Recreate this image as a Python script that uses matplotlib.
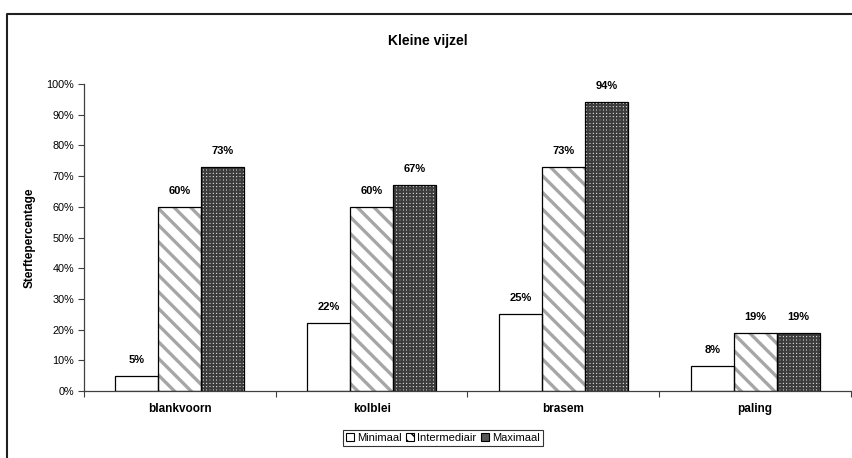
import numpy as np
import matplotlib
matplotlib.use("Agg")
import matplotlib.pyplot as plt
import matplotlib.transforms as mtransforms
from matplotlib.lines import Line2D
from matplotlib.patches import Patch

plt.rcParams['font.family'] = ['Liberation Sans', 'DejaVu Sans']

categories = ["blankvoorn", "kolblei", "brasem", "paling"]
series = ["Minimaal", "Intermediair", "Maximaal"]
minimaal = [5, 22, 25, 8]
intermediair = [60, 60, 73, 19]
maximaal = [73, 67, 94, 19]
y_ticks = [0, 10, 20, 30, 40, 50, 60, 70, 80, 90, 100]

fig = plt.figure(figsize=(8.53, 4.58), dpi=100)
ax = fig.add_axes([84 / 853, 1 - 391 / 458, (851 - 84) / 853, (391 - 84) / 458])

x = np.arange(len(categories))
w = 0.224
values = [minimaal, intermediair, maximaal]
styles = [
    dict(face="white", hatch=None, hcol="white", hlw=1.0),
    dict(face="white", hatch="\\\\", hcol="#a6a6a6", hlw=2.4),
    dict(face="#f0f0f0", hatch="+++++", hcol="#3c3c3c", hlw=1.55),
]

for i, (vals, st) in enumerate(zip(values, styles)):
    xs = x + (i - 1) * w
    with plt.rc_context({'hatch.linewidth': st["hlw"], 'hatch.color': st["hcol"]}):
        bars = ax.bar(xs, vals, w, color=st["face"], hatch=st["hatch"],
                      edgecolor=st["hcol"], linewidth=0, zorder=2)
        for b in bars:
            if hasattr(b, "set_hatch_linewidth"):
                b.set_hatch_linewidth(st["hlw"])
    ax.bar(xs, vals, w, fill=False, edgecolor="black", linewidth=0.9, zorder=3)
    for xi, v in zip(xs, vals):
        ax.text(xi, v + 3.6, f"{v}%", ha="center", va="bottom",
                fontsize=8, fontweight="bold")

ax.set_xlim(-0.5, len(categories) - 0.5)
ax.set_ylim(0, 100)
ax.set_yticks(y_ticks)
ax.set_yticklabels([f"{t}%" for t in y_ticks], fontsize=7.8)
ax.set_xticks(np.arange(len(categories) + 1) - 0.5)
ax.set_xticklabels([])
ax.tick_params(axis="x", which="major", length=4, width=0.8, color="#404040")
ax.tick_params(axis="y", length=4, width=0.8, color="#404040", pad=3)
for s in ["top", "right"]:
    ax.spines[s].set_visible(False)
for s in ["left", "bottom"]:
    ax.spines[s].set_color("#404040")
    ax.spines[s].set_linewidth(0.9)

# category names on a common baseline below the axis
trans = ax.get_xaxis_transform() + mtransforms.ScaledTranslation(0, -21 / 100, fig.dpi_scale_trans)
for xi, c in zip(x, categories):
    ax.text(xi, 0, c, transform=trans, ha="center", va="baseline",
            fontsize=8.5, fontweight="bold")

ax.set_ylabel("Sterftepercentage", fontsize=8.5, fontweight="bold", labelpad=8)
fig.text(428 / 853, 1 - 41 / 458, "Kleine vijzel", ha="center", va="center",
         fontsize=10, fontweight="bold")

# outer chart frame
fig.add_artist(Line2D([7 / 853, 7 / 853, 1.0], [0.0, 1 - 14 / 458, 1 - 14 / 458],
                      transform=fig.transFigure, color="#202020", linewidth=1.5))

handles = [
    Patch(facecolor="white", edgecolor="black", linewidth=0.8),
    Patch(facecolor="white", edgecolor="black", linewidth=0.8, hatch="\\\\\\"),
    Patch(facecolor="#555555", edgecolor="black", linewidth=0.8),
]
leg = fig.legend(handles, series, loc="center", ncol=3,
                 bbox_to_anchor=(443 / 853, 1 - 438 / 458),
                 fontsize=8, handlelength=0.7, handleheight=0.7,
                 handletextpad=0.3, columnspacing=0.4, borderpad=0.3,
                 fancybox=False, frameon=True)
leg.get_frame().set_edgecolor("black")
leg.get_frame().set_linewidth(0.8)

fig.savefig("out.png", dpi=100)
